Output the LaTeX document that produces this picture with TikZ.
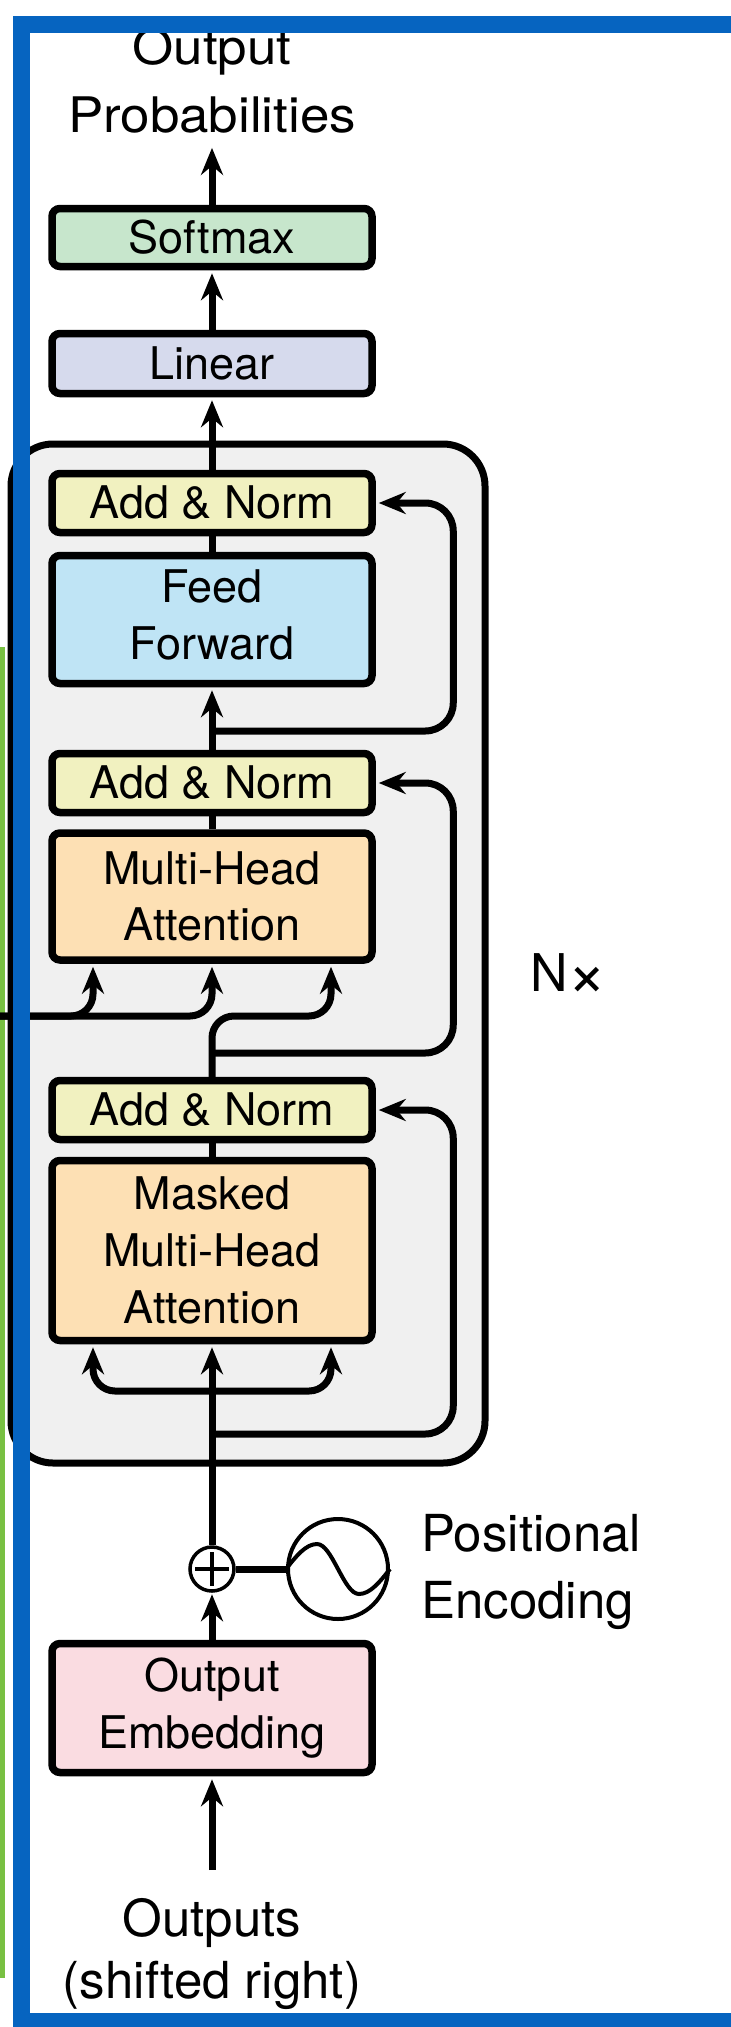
\documentclass[tikz,border=0pt]{standalone}
\usepackage{fontspec}
\usepackage{graphicx}
\setmainfont{TeX Gyre Heros}
\newfontfamily\widefont{TeX Gyre Heros}[FakeStretch=1.08]
\usetikzlibrary{arrows.meta,calc}
\definecolor{smx}{RGB}{199,230,204}
\definecolor{linc}{RGB}{214,218,237}
\definecolor{anc}{RGB}{241,241,192}
\definecolor{ffc}{RGB}{191,228,245}
\definecolor{mhac}{RGB}{253,224,180}
\definecolor{embc}{RGB}{250,220,225}
\definecolor{contbg}{RGB}{240,240,240}
\definecolor{frameblue}{RGB}{6,100,192}
\definecolor{sidegreen}{RGB}{120,192,66}
\begin{document}
\begin{tikzpicture}[x=1pt,y=-1pt,
  box/.style={draw=black, line width=7.5pt, rounded corners=8pt, minimum width=320pt,
    inner sep=0pt, align=center, font=\fontsize{45}{56.6}\selectfont},
  conn/.style={line width=7pt, -{Stealth[length=27pt,width=22pt,inset=9pt]}, shorten >=3pt},
  plainline/.style={line width=7pt},
  rcres/.style={rounded corners=28pt},
  rcin/.style={rounded corners=22pt},
  lbl/.style={inner sep=0pt, align=center}
]
\useasboundingbox (0,0) rectangle (731,2027);

% container
\node[draw=black, line width=7pt, fill=contbg, rounded corners=42pt,
  minimum width=474pt, minimum height=1019pt, inner sep=0pt] (dec) at (248,953.5) {};

% green side line
\fill[sidegreen] (0,647) rectangle (4.5,1978);

% boxes
\node[box, fill=smx, minimum height=58pt] (sm) at (212,237.5) {Softmax};
\node[box, fill=linc, minimum height=60pt] (lin) at (212,363.5) {Linear};
\node[box, fill=anc, minimum height=59pt] (an3) at (212,503) {Add \& Norm};
\node[box, fill=ffc, minimum height=128pt] (ff) at (212,619.5) {Feed\\Forward\vphantom{g}};
\node[box, fill=anc, minimum height=59pt] (an2) at (212,783) {Add \& Norm};
\node[box, fill=mhac, minimum height=127pt] (mha) at (212,896.5) {Multi-Head\\Attention};
\node[box, fill=anc, minimum height=59pt] (an1) at (212,1110) {Add \& Norm};
\node[box, fill=mhac, minimum height=180pt] (mmha) at (212,1250.5) {Masked\\Multi-Head\\Attention};
\node[box, fill=embc, minimum height=129pt] (emb) at (212,1708) {Output\\Embedding};

% plus and positional encoding
\node[circle, draw=black, line width=3.5pt, minimum size=44pt, inner sep=0pt] (plus) at (212,1569) {};
\draw[line width=3.5pt] ($(plus.center)+(-17,0)$) -- ($(plus.center)+(17,0)$);
\draw[line width=3.5pt] ($(plus.center)+(0,-17)$) -- ($(plus.center)+(0,17)$);
\node[circle, draw=black, line width=4pt, minimum size=100pt, inner sep=0pt] (sine) at (338,1569) {};
\draw[line width=4pt] (sine.west) sin ($(sine.center)+(-21,-25)$) cos (sine.center)
  sin ($(sine.center)+(21,25)$) cos (sine.east);
\draw[plainline] (plus.east) -- (sine.west);

% labels
\node[lbl, font=\widefont\fontsize{49}{68}\selectfont] (prob) at (212,81) {Output\\Probabilities};
\node[lbl, anchor=west, align=left, font=\fontsize{51}{66.6}\selectfont] (pe) at (421,1572) {Positional\\Encoding};
\node[lbl, font=\fontsize{51}{61.5}\selectfont] (outs) at (212,1954) {Outputs\\(shifted right)};
\node[inner sep=0pt, anchor=base west, font=\fontsize{52}{60}\selectfont] (nx) at (530,991.7) {N\raisebox{-0.09em}{\scalebox{1.3}{×}}};

% coordinates
\coordinate (encin) at (0,1016);
\coordinate (outin) at (212,1870);

% vertical main flow
\draw[conn] (outin) -- (emb.south);
\draw[conn, shorten >=1.5pt] (emb.north) -- (plus.south);
\draw[conn] (plus.north) -- (mmha.south);
\draw[plainline] (mmha.north) -- (an1.south);
\draw[plainline] (mha.north) -- (an2.south);
\draw[conn] (an2.north) -- (ff.south);
\draw[plainline] (ff.north) -- (an3.south);
\draw[conn] (an3.north) -- (lin.south);
\draw[conn] (lin.north) -- (sm.south);
\draw[conn, shorten >=0pt] (sm.north) -- ([yshift=-14pt]prob.south);

% masked attention inputs
\draw[conn, rcin] (mmha.south |- 0,1391) -| ([xshift=-119pt]mmha.south);
\draw[conn, rcin] (mmha.south |- 0,1391) -| ([xshift=119pt]mmha.south);

% cross attention inputs
\draw[conn, rcin] (encin) -| ([xshift=-119pt]mha.south);
\draw[conn, rcin] (encin) -| (mha.south);
\draw[conn, rcin] (an1.north) -- (an1.north |- 0,1016) -| ([xshift=119pt]mha.south);

% residual connections
\draw[conn, rcres] (mmha.south |- 0,1434) -| ([xshift=77.5pt]an1.east) -- (an1.east);
\draw[conn, rcres] (an1.north |- 0,1053) -| ([xshift=77.5pt]an2.east) -- (an2.east);
\draw[conn, rcres] (ff.south |- 0,731) -| ([xshift=77.5pt]an3.east) -- (an3.east);

% blue frame
\fill[frameblue] (13,16) rectangle (731,33);
\fill[frameblue] (13,16) rectangle (30,2027);
\fill[frameblue] (13,2013) rectangle (731,2027);
\end{tikzpicture}
\end{document}
